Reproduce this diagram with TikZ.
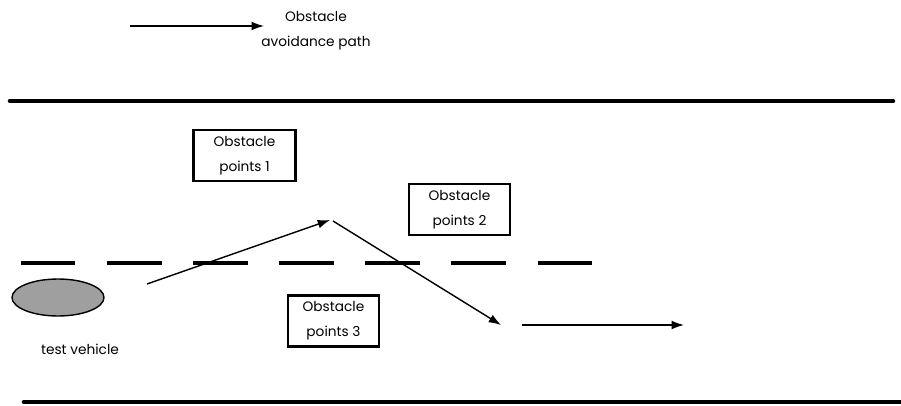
\documentclass[tikz,border=0pt]{standalone}
\usepackage{fontspec}
\setmainfont{Poppins}
\usetikzlibrary{arrows.meta,shapes.geometric}

\tikzset{
  lbl/.style={align=center, font=\fontsize{7.8}{14}\selectfont},
  obsbox/.style={lbl, draw, line width=1.2pt, minimum width=58pt, minimum height=29pt, inner sep=1pt},
  road/.style={line width=2.6pt, line cap=round},
  path/.style={line width=0.8pt, -{Latex[length=7pt,width=5pt]}}
}

\begin{document}
\begin{tikzpicture}[x=0.02cm, y=-0.02cm]
\useasboundingbox (0,0) rectangle (901,405);
% legend
\coordinate (lega) at (130,26);
\coordinate (legb) at (264,26);
\draw[path] (lega) -- (legb);
\node[lbl] (legtxt) at (316,31) {Obstacle\\avoidance path};
% road
\draw[road] (10,101) -- (893,101);
\draw[road] (24,402) -- (903,402);
\draw[line width=2pt, dash pattern=on 31pt off 18pt] (21,263) -- (597,263);
% obstacles
\node[obsbox] (obs1) at (244.5,155.5) {Obstacle\\points 1};
\node[obsbox, minimum width=57pt] (obs2) at (459.5,209.5) {Obstacle\\points 2};
\node[obsbox, minimum width=51.5pt] (obs3) at (333.5,321) {Obstacle\\points 3};
% vehicle
\node[ellipse, draw, line width=0.8pt, fill=gray!75, minimum width=1.84cm, minimum height=0.74cm, inner sep=0pt] (car) at (58,297.5) {};
\node[lbl] (cartxt) at (80,349) {test vehicle};
% avoidance path
\coordinate (p0) at (147,284);
\coordinate (p1) at (330,220);
\coordinate (p2) at (333,221);
\coordinate (p3) at (501,325);
\coordinate (p4) at (522,325);
\coordinate (p5) at (684,325);
\draw[path] (p0) -- (p1);
\draw[path] (p2) -- (p3);
\draw[path] (p4) -- (p5);
\end{tikzpicture}
\end{document}
